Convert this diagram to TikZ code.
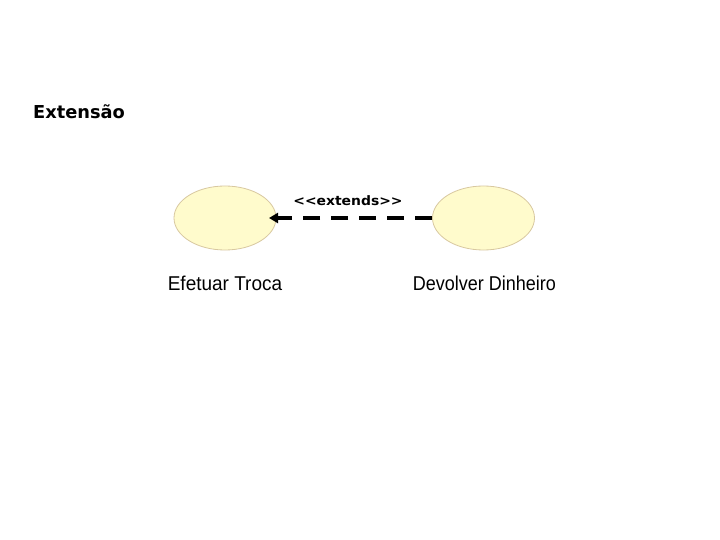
\documentclass[tikz,border=0pt]{standalone}
\usepackage{fontspec}
\setmainfont{Liberation Sans}
\newfontfamily\titlefont{DejaVu Sans}
\usetikzlibrary{arrows.meta,shapes.geometric}
\definecolor{ucfill}{HTML}{FFFBCC}
\definecolor{ucdraw}{HTML}{D8C8A0}
\tikzset{
  usecase/.style={ellipse, draw=ucdraw, fill=ucfill, line width=0.8pt, minimum width=102pt, minimum height=64pt, inner sep=0pt},
  uclabel/.style={font=\fontsize{20}{22}\selectfont, inner sep=0pt},
  extendarrow/.style={line width=4pt, dash pattern=on 17pt off 11pt, -{Triangle[length=9pt,width=10pt]}},
}
\begin{document}
\begin{tikzpicture}[x=1pt,y=-1pt]
\useasboundingbox (0,0) rectangle (720,540);
\fill[white] (0,0) rectangle (720,540);
\node[font=\titlefont\bfseries\fontsize{17.8}{20}\selectfont, anchor=west, inner sep=0pt] (title) at (33,112) {Extensão};
\node[usecase] (et) at (225,218) {};
\node[usecase] (dd) at (483.5,218) {};
\node[uclabel, xscale=0.95] (etl) at (225,283) {Efetuar Troca};
\node[uclabel, xscale=0.9] (ddl) at (484.5,283) {Devolver Dinheiro};
\coordinate (tip) at (269,218);
\draw[extendarrow] (dd.west) -- (tip);
\node[font=\titlefont\bfseries\fontsize{13}{15}\selectfont, inner sep=0pt, xscale=1.07] (ext) at (348,201) {{<}{<}extends{>}{>}};
\end{tikzpicture}
\end{document}
